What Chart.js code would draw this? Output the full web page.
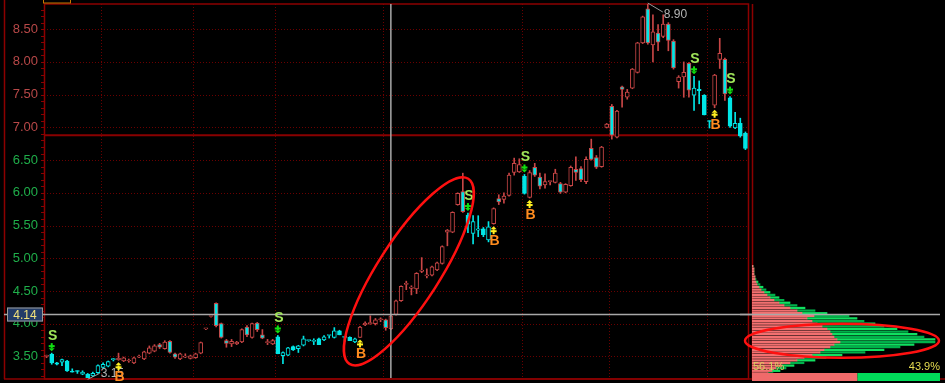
<!DOCTYPE html>
<html>
<head>
<meta charset="utf-8">
<script src="https://cdn.jsdelivr.net/npm/chart.js@4.4.0/dist/chart.umd.min.js"></script>
<style>
  html, body { margin: 0; padding: 0; background: #000; overflow: hidden; }
  #wrap { position: relative; width: 945px; height: 383px; }
  #main { position: absolute; left: 0; top: 0; }
  #prof { position: absolute; left: 740px; top: 0; }
</style>
</head>
<body>
<div id="wrap">
  <canvas id="main" width="945" height="383"></canvas>
  <canvas id="prof" width="205" height="383"></canvas>
</div>
<script>
  // daily candles
  const open = [3.50,3.53,3.40,3.41,3.43,3.27,3.28,3.23,3.23,3.20,3.25,3.33,3.35,3.45,3.45,3.43,3.43,3.40,3.49,3.46,
    3.55,3.58,3.68,3.62,3.73,3.54,3.46,3.49,3.47,3.48,3.55,3.92,4.11,4.31,4.00,3.74,3.69,3.69,3.72,3.95,
    3.79,4.01,3.83,3.71,3.69,3.80,3.51,3.52,3.65,3.62,3.67,3.74,3.73,3.77,3.75,3.82,3.79,3.89,3.79,3.79,
    3.72,3.79,3.98,4.00,4.00,4.06,4.06,3.92,4.14,4.35,4.60,4.54,4.53,4.80,4.73,4.74,4.82,4.92,5.40,5.40,
    5.82,6.02,5.66,5.38,5.43,5.45,5.28,5.53,5.91,5.90,5.96,6.31,6.32,6.25,5.93,6.39,6.24,6.12,6.17,6.16,
    6.14,6.01,6.11,6.36,6.37,6.17,6.68,6.54,6.40,7.00,7.32,6.85,7.62,7.46,7.60,7.84,8.29,8.81,8.26,8.44,
    8.39,8.58,8.32,7.70,7.77,7.98,7.49,7.58,7.49,7.10,7.34,8.04,8.04,7.45,6.99,7.06,6.91];
  const high = [3.52,3.55,3.41,3.46,3.44,3.31,3.28,3.28,3.24,3.26,3.37,3.40,3.43,3.47,3.55,3.49,3.46,3.49,3.52,3.58,
    3.66,3.68,3.70,3.74,3.74,3.55,3.55,3.54,3.52,3.55,3.72,3.92,4.11,4.32,4.01,3.76,3.76,3.73,3.92,3.97,
    4.01,4.02,3.91,3.76,3.76,3.82,3.57,3.64,3.66,3.67,3.81,3.75,3.77,3.78,3.82,3.82,3.94,3.90,3.79,3.80,
    3.78,3.96,4.03,4.12,4.08,4.09,4.07,4.13,4.36,4.58,4.65,4.58,4.78,5.01,4.84,4.88,4.94,5.19,5.44,5.71,
    6.00,6.30,5.69,5.65,5.65,5.47,5.56,5.77,5.97,6.00,6.30,6.53,6.52,6.28,6.34,6.45,6.30,6.29,6.18,6.36,
    6.16,6.14,6.41,6.55,6.40,6.55,6.82,6.57,6.71,7.06,7.35,7.26,7.63,7.58,7.90,8.30,8.70,8.90,8.72,8.57,
    8.72,8.60,8.34,7.79,8.00,7.99,7.78,7.71,7.50,7.10,7.81,8.36,8.06,7.47,7.23,7.14,6.93];
  const low = [3.48,3.38,3.37,3.36,3.27,3.26,3.24,3.22,3.15,3.19,3.24,3.32,3.34,3.43,3.44,3.42,3.41,3.39,3.48,3.45,
    3.54,3.57,3.62,3.61,3.55,3.47,3.45,3.48,3.46,3.47,3.54,3.91,4.10,3.95,3.78,3.64,3.65,3.68,3.71,3.80,
    3.78,3.88,3.77,3.68,3.68,3.54,3.39,3.51,3.59,3.56,3.66,3.73,3.68,3.68,3.74,3.78,3.78,3.83,3.73,3.74,
    3.71,3.79,3.97,3.99,3.98,4.03,3.90,3.91,4.13,4.34,4.52,4.44,4.46,4.78,4.70,4.73,4.81,4.91,5.19,5.39,
    5.81,5.70,5.39,5.22,5.33,5.33,5.25,5.52,5.82,5.84,5.95,6.27,6.31,5.98,5.92,6.25,6.06,6.07,6.12,6.15,
    5.99,6.00,6.10,6.19,6.17,6.14,6.50,6.37,6.39,6.99,6.82,6.84,7.31,7.43,7.59,7.83,8.28,8.27,8.00,8.17,
    8.37,8.17,7.89,7.60,7.46,7.46,7.26,7.36,7.19,6.99,7.30,7.90,7.41,7.00,6.98,6.85,6.66];
  const close = [3.50,3.40,3.38,3.45,3.28,3.26,3.27,3.26,3.17,3.24,3.36,3.38,3.42,3.45,3.47,3.48,3.44,3.48,3.50,3.57,
    3.63,3.66,3.64,3.72,3.56,3.49,3.54,3.50,3.51,3.54,3.71,3.92,4.11,3.97,3.79,3.70,3.73,3.72,3.91,3.83,
    4.00,3.91,3.78,3.71,3.74,3.54,3.56,3.63,3.60,3.66,3.77,3.74,3.73,3.68,3.80,3.82,3.89,3.83,3.79,3.74,
    3.77,3.95,4.01,4.00,4.06,4.06,3.94,4.12,4.35,4.57,4.60,4.56,4.77,4.82,4.74,4.87,4.93,5.18,5.43,5.70,
    5.99,5.71,5.52,5.56,5.45,5.36,5.48,5.76,5.86,5.95,6.27,6.45,6.43,5.99,6.31,6.27,6.10,6.17,6.17,6.30,
    6.01,6.13,6.39,6.31,6.20,6.51,6.51,6.39,6.70,7.05,6.88,7.25,7.58,7.54,7.89,8.29,8.69,8.29,8.46,8.30,
    8.58,8.33,7.91,7.77,7.84,7.57,7.60,7.56,7.19,7.09,7.80,8.13,7.51,7.02,7.06,6.87,6.68];
  const days = open.map((_, i) => 'D' + (i + 1));

  // S / B trade signals (candle index)
  const signalDay = [1, 14, 45, 61, 82, 87, 93, 94, 126, 130, 133];
  const signalType = ['S', 'B', 'S', 'B', 'S', 'B', 'S', 'B', 'S', 'B', 'S'];

  const crossDay = 67;
  const crossPrice = 4.14;
  const levelLine = 6.88;
  const gridDays = [10, 28, 44, 65, 92, 109, 128];
  const peakDay = 117, lowDay = 8;

  // price distribution on the right
  const profPrice = [3.20,3.24,3.28,3.32,3.36,3.40,3.44,3.48,3.52,3.56,3.60,3.64,3.68,3.72,3.76,3.80,3.84,3.88,3.92,3.96,
    4.00,4.04,4.08,4.12,4.16,4.20,4.24,4.28,4.32,4.36,4.40,4.44,4.48,4.52,4.56,4.60,4.64,4.68,4.72,4.76,4.80,4.84,4.88];
  const profRed = [12,16,20,24,30,38,45,52,60,68,72,78,82,88,85,82,80,78,75,70,
    65,60,55,62,50,45,38,32,27,22,18,15,12,9,7,5,4,3,3,2,2,2,1];
  const profGreen = [3,5,8,10,12,14,18,22,30,45,60,70,80,95,98,90,85,78,70,62,
    58,52,50,35,25,18,15,13,11,10,9,8,6,5,4,3,2,1,0,0,0,0,0];
  const shares = [56.1, 43.9];

  const RED = '#c84646', CYAN = '#00e6e6';
  const yMin = 3.17, yMax = 8.885;

  const regime = days.map((_, i) => {
    let r = 'B';
    signalDay.forEach((d, k) => { if (d <= i) r = signalType[k]; });
    return r;
  });
  const edge = regime.map(r => r === 'S' ? CYAN : RED);
  const fill = days.map((_, i) => close[i] < open[i] ? CYAN : '#000');

  function line(ctx, x1, y1, x2, y2) {
    ctx.beginPath(); ctx.moveTo(x1, y1); ctx.lineTo(x2, y2); ctx.stroke();
  }

  const decor = {
    id: 'decor',
    beforeDatasetsDraw(chart) {
      const { ctx, chartArea: a, scales: { x, y } } = chart;
      ctx.save();
      ctx.strokeStyle = '#6a0000'; ctx.lineWidth = 1; ctx.setLineDash([1, 2]);
      y.ticks.forEach(t => {
        const py = Math.round(y.getPixelForValue(t.value)) + 0.5;
        line(ctx, a.left, py, a.right, py);
      });
      gridDays.forEach(d => {
        const px = Math.round((x.getPixelForValue(d) + x.getPixelForValue(d + 1)) / 2) + 0.5;
        line(ctx, px, a.top, px, a.bottom);
      });
      ctx.setLineDash([]);
      ctx.strokeStyle = '#8a0000'; ctx.lineWidth = 2;
      const ly = y.getPixelForValue(levelLine);
      line(ctx, a.left, ly, a.right, ly);
      // frames
      ctx.strokeStyle = '#8c0000'; ctx.lineWidth = 1.5;
      ctx.strokeRect(a.left + 0.5, a.top, a.right - a.left, a.bottom - a.top + 1);
      line(ctx, 4.5, 0, 4.5, a.bottom + 1);
      line(ctx, 4, a.bottom + 1, 945, a.bottom + 1);
      line(ctx, a.right + 4.5, a.top, a.right + 4.5, a.bottom + 1);
      // minor ticks
      ctx.lineWidth = 1;
      for (let v = 3.2; v < yMax; v += 0.1) {
        const py = Math.round(y.getPixelForValue(v)) + 0.5;
        line(ctx, a.left - 3, py, a.left, py);
      }
      ctx.strokeStyle = '#c87800';
      ctx.strokeRect(43.5, -1, 27, 4);
      ctx.restore();
    },
    afterDatasetsDraw(chart) {
      const { ctx, chartArea: a, scales: { x, y } } = chart;
      ctx.save();
      // crosshair
      ctx.strokeStyle = '#a8a8a8'; ctx.lineWidth = 1.5;
      const cx = x.getPixelForValue(crossDay);
      line(ctx, cx, a.top, cx, a.bottom);
      const cy = y.getPixelForValue(crossPrice);
      line(ctx, 4, cy, a.right + 6, cy);

      // high / low notes
      ctx.strokeStyle = '#9a9a9a'; ctx.lineWidth = 1;
      ctx.fillStyle = '#b4b4b4'; ctx.font = '12px "Liberation Sans"';
      ctx.textBaseline = 'middle'; ctx.textAlign = 'left';
      let px = x.getPixelForValue(peakDay), py = y.getPixelForValue(high[peakDay]);
      line(ctx, px, py, px + 15, py + 9);
      ctx.fillText(high[peakDay].toFixed(2), px + 16, py + 12);
      px = x.getPixelForValue(lowDay); py = y.getPixelForValue(low[lowDay]);
      line(ctx, px, py, px + 12, py - 6);
      ctx.fillText(low[lowDay].toFixed(2), px + 13, py - 6);

      // signals
      ctx.textAlign = 'center';
      ctx.font = 'bold 14px "Liberation Sans"';
      signalDay.forEach((d, k) => {
        const sx = x.getPixelForValue(d);
        if (signalType[k] === 'S') {
          const sy = y.getPixelForValue(high[d]) - 3;
          ctx.fillStyle = '#10e010';
          ctx.fillRect(sx - 1, sy - 7, 2, 5);
          ctx.fillRect(sx - 3, sy - 5, 6, 2);
          ctx.beginPath(); ctx.moveTo(sx - 3, sy - 2); ctx.lineTo(sx + 3, sy - 2); ctx.lineTo(sx, sy + 1); ctx.fill();
          ctx.fillStyle = '#a0e65a';
          ctx.fillText('S', sx + 1, sy - 14);
        } else {
          const sy = y.getPixelForValue(low[d]) + 3;
          ctx.fillStyle = '#fff020';
          ctx.fillRect(sx - 1, sy + 2, 2, 5);
          ctx.fillRect(sx - 3, sy + 3, 6, 2);
          ctx.beginPath(); ctx.moveTo(sx - 3, sy + 2); ctx.lineTo(sx + 3, sy + 2); ctx.lineTo(sx, sy - 1); ctx.fill();
          ctx.fillStyle = '#ff8c1e';
          ctx.fillText('B', sx + 1, sy + 14);
        }
      });

      // highlight ellipse
      const ex = x.getPixelForValue(70.5), ey = y.getPixelForValue(4.80);
      ctx.strokeStyle = '#ff1010'; ctx.lineWidth = 2.5;
      ctx.beginPath();
      ctx.ellipse(ex, ey, 110, 31, -57.3 * Math.PI / 180, 0, Math.PI * 2);
      ctx.stroke();
      ctx.restore();
    },
    afterDraw(chart) {
      const { ctx, scales: { y } } = chart;
      const cy = y.getPixelForValue(crossPrice);
      ctx.save();
      ctx.fillStyle = '#223c68'; ctx.strokeStyle = '#9a9a9a'; ctx.lineWidth = 1;
      ctx.fillRect(7, cy - 7, 36, 14);
      ctx.strokeRect(7.5, cy - 6.5, 35, 13);
      ctx.fillStyle = '#f2e27a'; ctx.font = '12px "Liberation Sans"';
      ctx.textAlign = 'center'; ctx.textBaseline = 'middle';
      ctx.fillText(crossPrice.toFixed(2), 25, cy + 1);
      ctx.restore();
    }
  };

  new Chart(document.getElementById('main'), {
    type: 'bar',
    data: {
      labels: days,
      datasets: [{
        data: days.map((_, i) => [low[i], high[i]]),
        backgroundColor: edge,
        barThickness: 1,
        grouped: false,
        order: 1
      }, {
        data: days.map((_, i) => [open[i], close[i]]),
        backgroundColor: fill,
        borderColor: edge,
        borderWidth: 1,
        borderSkipped: false,
        barThickness: 4,
        minBarLength: 1,
        grouped: false,
        order: 0
      }]
    },
    options: {
      responsive: false,
      animation: false,
      layout: { padding: { left: 0, right: 197, top: 4, bottom: 5 } },
      plugins: { legend: { display: false }, tooltip: { enabled: false } },
      scales: {
        x: { display: false },
        y: {
          type: 'linear',
          min: yMin,
          max: yMax,
          ticks: {
            stepSize: 0.5,
            includeBounds: false,
            padding: 6,
            font: { family: 'Liberation Sans', size: 13 },
            color: ctx => ctx.tick.value >= 7 ? '#b84848' : '#1fae4a',
            callback: v => v.toFixed(2)
          },
          grid: { display: false, drawTicks: false },
          border: { display: false },
          afterFit(s) { s.width = 44; s.paddingTop = 0; s.paddingBottom = 0; }
        }
      }
    },
    plugins: [decor]
  });

  const profDecor = {
    id: 'profDecor',
    afterDatasetsDraw(chart) {
      const { ctx, chartArea: a, scales: { y } } = chart;
      ctx.save();
      ctx.strokeStyle = '#a8a8a8'; ctx.lineWidth = 1.5;
      const cy = y.getPixelForValue(crossPrice);
      line(ctx, 0, cy, 200, cy);
      // share strip
      const sy = a.bottom - 5;
      const w = 188;
      ctx.fillStyle = '#f06a6a';
      ctx.fillRect(a.left, sy, w * shares[0] / 100, 8);
      ctx.fillStyle = '#00dc5a';
      ctx.fillRect(a.left + w * shares[0] / 100, sy, w * shares[1] / 100, 8);
      ctx.font = '11px "Liberation Sans"'; ctx.textBaseline = 'alphabetic';
      ctx.fillStyle = '#d8d060'; ctx.textAlign = 'left';
      ctx.fillText(shares[0].toFixed(1) + '%', a.left + 1, sy - 3);
      ctx.fillStyle = '#e6dc50'; ctx.textAlign = 'right';
      ctx.fillText(shares[1].toFixed(1) + '%', a.left + w, sy - 3);
      // highlight ellipse
      ctx.strokeStyle = '#ff1010'; ctx.lineWidth = 2.5;
      ctx.beginPath();
      ctx.ellipse(102, y.getPixelForValue(3.74), 97, 17, 0, 0, Math.PI * 2);
      ctx.stroke();
      ctx.restore();
    }
  };

  new Chart(document.getElementById('prof'), {
    type: 'bar',
    data: {
      datasets: [{
        data: profPrice.map((p, i) => ({ x: profRed[i], y: p })),
        backgroundColor: '#f27070',
        barThickness: 1.6
      }, {
        data: profPrice.map((p, i) => ({ x: profGreen[i], y: p })),
        backgroundColor: profPrice.map((_, i) => i % 2 ? '#00b04a' : '#10e060'),
        barThickness: 1.6
      }]
    },
    options: {
      indexAxis: 'y',
      responsive: false,
      animation: false,
      layout: { padding: { left: 12, right: 0, top: 4, bottom: 5 } },
      plugins: { legend: { display: false }, tooltip: { enabled: false } },
      scales: {
        y: { type: 'linear', min: yMin, max: yMax, offset: false, grace: 0, display: false, stacked: true },
        x: { type: 'linear', min: 0, max: 193, offset: false, display: false, stacked: true }
      }
    },
    plugins: [profDecor]
  });
</script>
</body>
</html>
